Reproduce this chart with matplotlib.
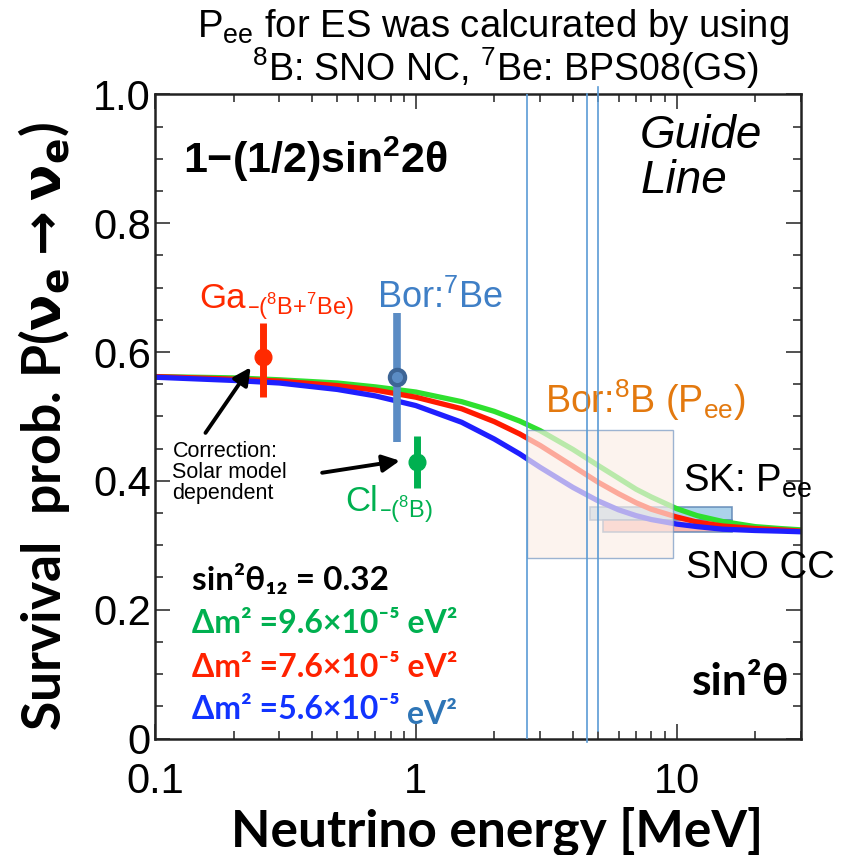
import matplotlib

matplotlib.use("Agg")
import matplotlib.pyplot as plt
from matplotlib.patches import Rectangle
from matplotlib.ticker import FixedLocator, LogLocator, MultipleLocator, NullFormatter

# survival probability curves (sin^2 theta12 = 0.32)
energy = [0.1, 0.2, 0.3, 0.5, 0.7, 1, 1.5, 2, 2.5, 3, 4, 5, 6, 7, 8, 10, 12, 15, 20, 25, 30]
pee_96 = [0.562, 0.560, 0.557, 0.552, 0.546, 0.538, 0.523, 0.508, 0.493, 0.478, 0.449,
          0.424, 0.404, 0.387, 0.375, 0.357, 0.346, 0.337, 0.329, 0.326, 0.324]
pee_76 = [0.562, 0.558, 0.555, 0.548, 0.541, 0.530, 0.512, 0.492, 0.473, 0.455, 0.423,
          0.398, 0.380, 0.366, 0.356, 0.344, 0.336, 0.330, 0.326, 0.324, 0.322]
pee_56 = [0.561, 0.556, 0.552, 0.542, 0.532, 0.517, 0.491, 0.465, 0.442, 0.421, 0.390,
          0.369, 0.355, 0.346, 0.340, 0.333, 0.329, 0.325, 0.323, 0.322, 0.321]

# radiochemical / Borexino points
exp_names = ["Ga", "Bor:7Be", "Cl"]
exp_energy = [0.26, 0.85, 1.01]
exp_pee = [0.592, 0.561, 0.429]
exp_err_lo = [0.062, 0.101, 0.040]
exp_err_hi = [0.053, 0.100, 0.040]

# boxes: (E_lo, E_hi, P_lo, P_hi)
bor8b_box = (2.67, 9.7, 0.281, 0.479)
sk_box = (4.65, 16.3, 0.340, 0.360)
sno_box = (5.21, 16.3, 0.320, 0.340)
thresholds = [2.67, 4.53, 5.0]

HELV = ["Liberation Sans", "DejaVu Sans"]
CALI = ["Lato", "DejaVu Sans"]

plt.rcParams["font.family"] = HELV
plt.rcParams["mathtext.fontset"] = "dejavusans"

fig = plt.figure(figsize=(8.43, 8.55), dpi=100)
ax = fig.add_axes([155 / 843, 1 - 738.5 / 855, 646 / 843, 644 / 855])

# boxes under curves
for (e0, e1, p0, p1), fc in [(sk_box, "#9ecbe8"), (sno_box, "#f7aaa2")]:
    ax.add_patch(Rectangle((e0, p0), e1 - e0, p1 - p0, facecolor=fc, edgecolor="#5f86b5",
                           lw=1.2, alpha=0.85, zorder=1))

ax.plot(energy, pee_96, color="#2fe02f", lw=3.8, zorder=2)
ax.plot(energy, pee_76, color="#ff1a00", lw=3.8, zorder=2)
ax.plot(energy, pee_56, color="#1f1fff", lw=3.8, zorder=2)

e0, e1, p0, p1 = bor8b_box
ax.add_patch(Rectangle((e0, p0), e1 - e0, p1 - p0, facecolor="#fbeee6", edgecolor="#6f92c0",
                       lw=1.0, alpha=0.68, zorder=3))

ax.axvline(thresholds[0], 0, 1, color="#5b9bd5", lw=1.2, zorder=5)
ax.axvline(thresholds[1], -0.005, 1, color="#5b9bd5", lw=1.2, zorder=5, clip_on=False)
ax.axvline(thresholds[2], 0.011, 1.012, color="#5b9bd5", lw=1.2, zorder=5, clip_on=False)

styles = [
    dict(color="#ff2a00", mfc="#ff2a00", mec="#ff2a00", lw=5, ms=12, mew=1),
    dict(color="#5b8cc4", mfc="#5b8cc4", mec="#3d6596", lw=5.5, ms=11, mew=3),
    dict(color="#00b050", mfc="#00b050", mec="#00b050", lw=5, ms=12, mew=1),
]
for e, p, lo, hi, st in zip(exp_energy, exp_pee, exp_err_lo, exp_err_hi, styles):
    ax.errorbar([e], [p], yerr=[[lo], [hi]], fmt="o", color=st["color"], elinewidth=st["lw"],
                capsize=0, ms=st["ms"], mfc=st["mfc"], mec=st["mec"], mew=st["mew"], zorder=6)

ax.set_xscale("log")
ax.set_xlim(0.1, 30)
ax.set_ylim(0, 1)
ax.xaxis.set_major_locator(FixedLocator([0.1, 1, 10]))
ax.set_xticklabels(["0.1", "1", "10"])
ax.xaxis.set_minor_locator(LogLocator(base=10, subs=range(2, 10)))
ax.xaxis.set_minor_formatter(NullFormatter())
ax.set_yticks([0, 0.2, 0.4, 0.6, 0.8, 1.0])
ax.set_yticklabels(["0", "0.2", "0.4", "0.6", "0.8", "1.0"])
ax.yaxis.set_minor_locator(MultipleLocator(0.05))
ax.tick_params(which="both", direction="in", top=True, right=True, color="#333333",
               width=1.2, labelsize=30)
ax.tick_params(which="major", length=11)
ax.tick_params(which="minor", length=6)
ax.tick_params(axis="x", pad=17)
ax.tick_params(axis="y", pad=3)
for sp in ax.spines.values():
    sp.set_linewidth(1.8)
    sp.set_color("#222222")

ax.set_xlabel("Neutrino energy [MeV]", family=CALI, weight="bold", fontsize=37)
ax.xaxis.set_label_coords(0.53, -0.105)
ax.set_ylabel(r"Survival  prob. P($\mathbf{\nu}_\mathbf{e}\mathbf{\rightarrow}\mathbf{\nu}_\mathbf{e}$)",
              family=CALI, weight="bold", fontsize=38.5)
ax.yaxis.set_label_coords(-0.128, 0.485)

title_font = ["Liberation Sans Narrow", "Liberation Sans"]
fig.text(0.585, 0.957, r"P$_{\mathdefault{ee}}$ for ES was calcurated by using",
         ha="center", fontsize=27.5, family=title_font)
fig.text(0.6, 0.905, r"$^{\mathdefault{8}}$B: SNO NC, $^{\mathdefault{7}}$Be: BPS08(GS)",
         ha="center", fontsize=27, family=title_font)

tx = ax.transAxes
ax.text(0.043, 0.90, r"1−(1/2)sin$^{\mathdefault{2}}$2θ", transform=tx, fontsize=31,
        weight="bold", va="center")
ax.text(0.751, 0.935, "Guide", transform=tx, fontsize=33, style="italic", va="center")
ax.text(0.751, 0.865, "Line", transform=tx, fontsize=33, style="italic", va="center")

ga = ax.text(0.068, 0.668, "Ga", transform=tx, fontsize=25, color="#ff2a00")
ax.annotate(r"–($^{\mathdefault{8}}$B+$^{\mathdefault{7}}$Be)", xy=(1, 0), xycoords=ga,
            xytext=(1, 0), textcoords="offset points", fontsize=17, color="#ff2a00")
ax.text(0.344, 0.668, r"Bor:$^{\mathdefault{7}}$Be", transform=tx, fontsize=26, color="#3f7fc6")
cl = ax.text(0.294, 0.353, "Cl", transform=tx, fontsize=25, color="#00b050")
ax.annotate(r"–($^{\mathdefault{8}}$B)", xy=(1, 0), xycoords=cl,
            xytext=(1, 0), textcoords="offset points", fontsize=17, color="#00b050")
ax.text(0.604, 0.505, r"Bor:$^{\mathdefault{8}}$B (P$_{\mathdefault{ee}}$)", transform=tx,
        fontsize=27, color="#e3790f")
ax.text(0.817, 0.383, r"SK: P$_{\mathdefault{ee}}$", transform=tx, fontsize=27.5)
ax.text(0.822, 0.249, "SNO CC", transform=tx, fontsize=27.5, clip_on=False)
ax.text(0.831, 0.068, "sin²θ", transform=tx, fontsize=32, family=CALI, weight="bold")

ax.text(0.027, 0.462, "Correction:\nSolar model\ndependent", transform=tx, fontsize=15.5,
        va="top", linespacing=1.0)
ax.annotate("", xy=(0.236, 0.580), xytext=(0.154, 0.471),
            arrowprops=dict(arrowstyle="-|>", lw=2.8, color="black", mutation_scale=26))
ax.annotate("", xy=(0.89, 0.432), xytext=(0.427, 0.412),
            arrowprops=dict(arrowstyle="-|>", lw=2.8, color="black", mutation_scale=26))

ax.text(0.057, 0.231, "sin²θ₁₂ = 0.32", transform=tx, fontsize=24, family=CALI, weight="bold")
ax.text(0.057, 0.164, "Δm² =9.6×10⁻⁵ eV²", transform=tx, fontsize=23, family=CALI,
        weight="bold", color="#00b050")
ax.text(0.057, 0.095, "Δm² =7.6×10⁻⁵ eV²", transform=tx, fontsize=23, family=CALI,
        weight="bold", color="#ff2200")
dm56 = ax.text(0.057, 0.030, "Δm² =5.6×10⁻⁵", transform=tx, fontsize=23, family=CALI,
               weight="bold", color="#1133ff")
ax.annotate("eV²", xy=(1, 0), xycoords=dm56, xytext=(5, 0), textcoords="offset points",
            fontsize=23, family=CALI, weight="bold", color="#2e75b6")

fig.savefig("out.png", dpi=100)
